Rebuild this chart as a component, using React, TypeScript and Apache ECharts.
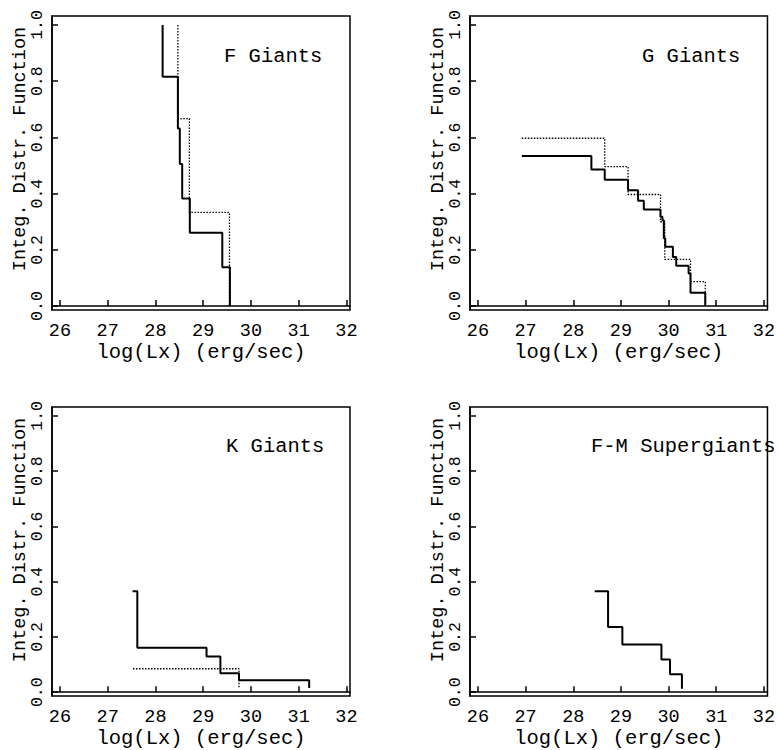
import React, { useEffect, useRef } from "react";
import * as echarts from "echarts";

// ---- data ----
const xTicks = [26, 27, 28, 29, 30, 31, 32];
const yTicks = [0, 0.2, 0.4, 0.6, 0.8, 1.0];
const panelTitles = ["F Giants", "G Giants", "K Giants", "F-M Supergiants"];
const xAxisName = "log(Lx) (erg/sec)";
const yAxisName = "Integ. Distr. Function";

// step curves: x = where the level ends (drop position), y = level before the drop
const fSolidX = [28.15, 28.47, 28.51, 28.56, 28.72, 29.40, 29.56, 29.56];
const fSolidY = [1.0, 0.816, 0.632, 0.505, 0.383, 0.261, 0.138, 0.0];
const fDotX = [28.47, 28.71, 29.55, 29.55];
const fDotY = [1.0, 0.667, 0.333, 0.0];

const gSolidX = [26.92, 28.38, 28.66, 29.15, 29.36, 29.48, 29.83, 29.87, 29.90, 29.93, 30.09, 30.16, 30.42, 30.46, 30.77, 30.77];
const gSolidY = [0.534, 0.534, 0.486, 0.449, 0.412, 0.375, 0.344, 0.318, 0.305, 0.241, 0.211, 0.175, 0.143, 0.116, 0.047, 0.0];
const gDotX = [26.92, 28.66, 29.15, 29.83, 29.92, 30.46, 30.77, 30.77];
const gDotY = [0.597, 0.597, 0.496, 0.397, 0.30, 0.166, 0.087, 0.0];

const kSolidX = [27.52, 27.62, 29.07, 29.36, 29.75, 31.22, 31.22];
const kSolidY = [0.365, 0.365, 0.161, 0.129, 0.069, 0.043, 0.015];
const kDotX = [27.53, 29.75, 29.75];
const kDotY = [0.085, 0.085, 0.015];

const sSolidX = [28.45, 28.73, 29.03, 29.85, 30.03, 30.28, 30.28];
const sSolidY = [0.365, 0.365, 0.236, 0.173, 0.118, 0.065, 0.013];

const FONT = "'Liberation Mono', 'DejaVu Sans Mono', monospace";

const pairs = (xs: number[], ys: number[]) => xs.map((x, i) => [x, ys[i]]);

export default function App() {
  const ref = useRef<HTMLDivElement>(null);
  useEffect(() => {
    if (!ref.current) return;
    const chart = echarts.init(ref.current, undefined, { renderer: "svg" });

    const grids = [
      { left: 52, top: 16, width: 298, height: 294 },
      { left: 470, top: 16, width: 299, height: 294 },
      { left: 52, top: 407, width: 298, height: 293 },
      { left: 470, top: 407, width: 299, height: 293 },
    ];

    const xAxes = grids.map((_, i) => ({
      type: "value",
      gridIndex: i,
      min: 25.833,
      max: 32.075,
      name: xAxisName,
      nameLocation: "middle",
      nameGap: 27,
      nameTextStyle: { fontFamily: FONT, fontSize: 20.5, color: "#000" },
      axisLine: { show: true, lineStyle: { color: "#000", width: 1.5 } },
      axisTick: { show: true, inside: true, length: 6, customValues: xTicks, lineStyle: { color: "#000", width: 1.5 } },
      axisLabel: { customValues: xTicks, margin: 12, fontFamily: FONT, fontSize: 18.5, color: "#000", formatter: (v: number) => String(v) },
      splitLine: { show: false },
    }));

    const yAxes = grids.map((_, i) => ({
      type: "value",
      gridIndex: i,
      min: -0.014,
      max: 1.032,
      axisLine: { show: true, lineStyle: { color: "#000", width: 1.5 } },
      axisTick: { show: true, inside: true, length: 6, customValues: yTicks, lineStyle: { color: "#000", width: 1.5 } },
      axisLabel: { customValues: yTicks, rotate: 90, margin: 6, fontFamily: FONT, fontSize: 16.5, color: "#000", formatter: (v: number) => v.toFixed(1) },
      splitLine: { show: false },
    }));

    const solid = (idx: number, xs: number[], ys: number[]) => ({
      type: "line",
      xAxisIndex: idx,
      yAxisIndex: idx,
      data: pairs(xs, ys),
      step: "start",
      showSymbol: false,
      symbol: "none",
      lineStyle: { color: "#000", width: 2 },
      z: 3,
    });
    const dotted = (idx: number, xs: number[], ys: number[]) => ({
      type: "line",
      xAxisIndex: idx,
      yAxisIndex: idx,
      data: pairs(xs, ys),
      step: "start",
      showSymbol: false,
      symbol: "none",
      lineStyle: { color: "#000", width: 1.3, type: [1.5, 1.5] },
      z: 2,
    });

    const titlePos = [
      [224, 56],
      [642, 56],
      [226, 446],
      [591, 446],
    ];
    const yNamePos = [
      [20, 149],
      [438, 149],
      [20, 540],
      [438, 540],
    ];

    const graphic: any[] = [];
    titlePos.forEach((p, i) => {
      graphic.push({
        type: "text",
        x: p[0],
        y: p[1],
        z: 10,
        style: { text: panelTitles[i], fontFamily: FONT, fontSize: 20.5, fill: "#000", align: "left", verticalAlign: "middle" },
      });
    });
    yNamePos.forEach((p) => {
      graphic.push({
        type: "text",
        x: p[0],
        y: p[1],
        rotation: Math.PI / 2,
        z: 10,
        style: { text: yAxisName, fontFamily: FONT, fontSize: 18.5, fill: "#000", align: "center", verticalAlign: "middle" },
      });
    });

    chart.setOption({
      animation: false,
      backgroundColor: "#fff",
      grid: grids.map((g) => ({ ...g, show: true, borderColor: "#000", borderWidth: 1.5, backgroundColor: "transparent" })),
      xAxis: xAxes,
      yAxis: yAxes,
      series: [
        dotted(0, fDotX, fDotY),
        solid(0, fSolidX, fSolidY),
        dotted(1, gDotX, gDotY),
        solid(1, gSolidX, gSolidY),
        dotted(2, kDotX, kDotY),
        solid(2, kSolidX, kSolidY),
        solid(3, sSolidX, sSolidY),
      ],
      graphic,
    });
    return () => chart.dispose();
  }, []);
  return <div ref={ref} style={{ position: "fixed", left: 0, top: 0, width: 778, height: 750 }} />;
}
